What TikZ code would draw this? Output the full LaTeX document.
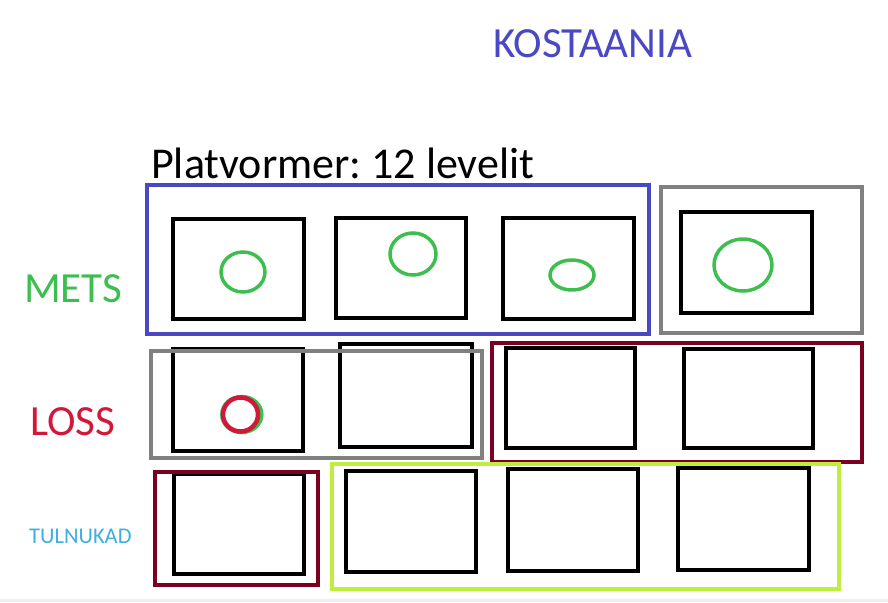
\documentclass[tikz,border=0pt]{standalone}
\usepackage{fontspec}
\setmainfont{Carlito}
\frenchspacing
\definecolor{kblue}{HTML}{4B48C4}
\definecolor{kgreen}{HTML}{3CBF4F}
\definecolor{kred}{HTML}{D2183A}
\definecolor{klblue}{HTML}{3FAEE0}
\definecolor{kgrey}{HTML}{808080}
\definecolor{kmaroon}{HTML}{7A0022}
\definecolor{klime}{HTML}{BEEF3E}
\definecolor{kstrip}{HTML}{EEEEEE}
\tikzset{
  lvl/.style={draw=black, line width=4pt},
  frame/.style={line width=4pt},
  blob/.style={draw=kgreen, line width=3.5pt},
  lab/.style={inner sep=0pt, anchor=base west},
}
\begin{document}
\begin{tikzpicture}[x=1pt,y=-1pt]
\useasboundingbox (0,0) rectangle (888,602);
\fill[kstrip] (0,599) rectangle (888,602);
% titles
\node[lab, text=kblue, font=\fontsize{43}{50}\selectfont] (title) at (493,57) {KOSTAANIA};
\node[lab, text=black, font=\fontsize{44}{52}\selectfont] (plat) at (151,178) {Platvormer: 12 levelit};
\node[lab, text=kgreen, font=\fontsize{43}{50}\selectfont] (mets) at (24,302) {METS};
\node[lab, text=kred, font=\fontsize{43}{50}\selectfont] (loss) at (30,435) {LOSS};
\node[lab, text=klblue, font=\fontsize{22.5}{27}\selectfont] (tul) at (29,543) {TULNUKAD};
% row 1
\draw[lvl] (173,219) rectangle (304,319);
\draw[lvl] (336,218) rectangle (466,318);
\draw[lvl] (503,218) rectangle (634,319);
\draw[lvl] (681,212) rectangle (812,313);
\draw[frame, draw=kblue] (147,185) rectangle (649,334);
\draw[frame, draw=kgrey] (661,187) rectangle (862,333);
\draw[blob] (243,272) ellipse [x radius=22, y radius=20];
\draw[blob] (413,254) ellipse [x radius=23, y radius=21];
\draw[blob] (572,275) ellipse [x radius=22, y radius=15];
\draw[blob] (743,265) ellipse [x radius=29, y radius=26];
% row 2
\draw[lvl] (173,349) rectangle (303,451);
\draw[lvl] (340,344) rectangle (472,447);
\draw[frame, draw=kgrey] (151,351) rectangle (482,458);
\draw[lvl] (506,348) rectangle (635,448);
\draw[lvl] (684,349) rectangle (813,448);
\draw[frame, draw=kmaroon] (492,343) rectangle (862,462);
\draw[blob] (241.8,414.5) ellipse [x radius=20, y radius=18];
\draw[draw=kred, line width=4.5pt] (240.5,414.5) ellipse [x radius=17.5, y radius=17];
% row 3
\draw[lvl] (174,474) rectangle (304,574);
\draw[frame, draw=kmaroon] (155,472) rectangle (318,585);
\draw[lvl] (346,471) rectangle (476,572);
\draw[lvl] (508,469) rectangle (638,571);
\draw[lvl] (678,468) rectangle (809,570);
\draw[frame, draw=klime] (332,464) rectangle (839,589);
\end{tikzpicture}
\end{document}
